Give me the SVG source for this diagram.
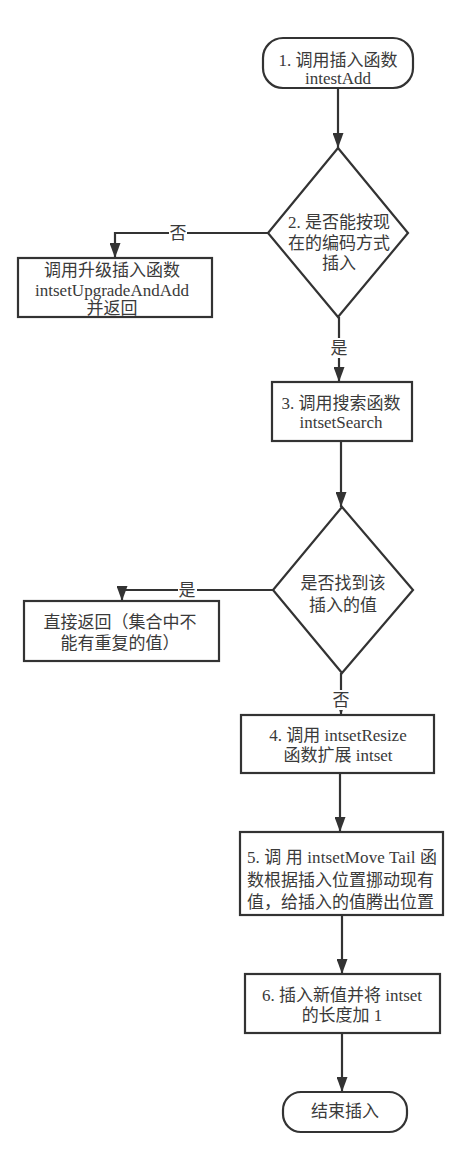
<svg xmlns="http://www.w3.org/2000/svg" width="476" height="1152" viewBox="0 0 476 1152">
<style>
.n{fill:#fff;stroke:#333;stroke-width:2.2}
.c{fill:none;stroke:#333;stroke-width:2.2}
text{font-family:"Liberation Serif","Noto Sans CJK SC",serif;font-size:17px;fill:#3a3a3a}
.m{text-anchor:middle}
.bg{fill:#fff;stroke:none}
</style>
<defs>
<marker id="ah" markerUnits="userSpaceOnUse" markerWidth="15" markerHeight="11" refX="15" refY="5.5" orient="auto">
<path d="M0,0 L15,5.5 L0,11 z" fill="#333"/>
</marker>
</defs>
<rect width="476" height="1152" fill="#fff"/>
<g id="connectors">
<path class="c" d="M338,88 V148" marker-end="url(#ah)"/>
<path class="c" d="M268,233 H115 V258" marker-end="url(#ah)"/>
<path class="c" d="M339,317 V382" marker-end="url(#ah)"/>
<path class="c" d="M341,441 V507" marker-end="url(#ah)"/>
<path class="c" d="M273,590 H122 V601" marker-end="url(#ah)"/>
<path class="c" d="M341,673 V715" marker-end="url(#ah)"/>
<path class="c" d="M340,773 V832" marker-end="url(#ah)"/>
<path class="c" d="M342,915 V974" marker-end="url(#ah)"/>
<path class="c" d="M342,1033 V1092" marker-end="url(#ah)"/>
<rect class="bg" x="169" y="223" width="18" height="20"/>
<text class="m" x="178" y="239">否</text>
<rect class="bg" x="330" y="338" width="19" height="20"/>
<text class="m" x="339" y="354">是</text>
<rect class="bg" x="178" y="580" width="19" height="20"/>
<text class="m" x="187" y="596">是</text>
<rect class="bg" x="331" y="690" width="19" height="20"/>
<text class="m" x="341" y="706">否</text>
</g>
<g id="n1">
<rect class="n" x="263" y="38" width="150" height="50" rx="20"/>
<text class="m" x="338" y="66">1. 调用插入函数</text>
<text class="m" x="338" y="84">intestAdd</text>
</g>
<g id="n2">
<polygon class="n" points="338,148 408,233 338,317 268,233"/>
<text class="m" x="339" y="228">2. 是否能按现</text>
<text class="m" x="339" y="249">在的编码方式</text>
<text class="m" x="339" y="269">插入</text>
</g>
<g id="n2a">
<rect class="n" x="18" y="258" width="194" height="59"/>
<text class="m" x="112" y="276">调用升级插入函数</text>
<text class="m" x="112" y="296">intsetUpgradeAndAdd</text>
<text class="m" x="112" y="314">并返回</text>
</g>
<g id="n3">
<rect class="n" x="272" y="382" width="140" height="59"/>
<text class="m" x="341" y="409">3. 调用搜索函数</text>
<text class="m" x="341" y="428">intsetSearch</text>
</g>
<g id="n3d">
<polygon class="n" points="342,507 413,590 342,673 273,590"/>
<text class="m" x="343" y="589">是否找到该</text>
<text class="m" x="343" y="611">插入的值</text>
</g>
<g id="n3a">
<rect class="n" x="24" y="601" width="195" height="60"/>
<text class="m" x="120" y="628">直接返回（集合中不</text>
<text class="m" x="120" y="649">能有重复的值）</text>
</g>
<g id="n4">
<rect class="n" x="241" y="715" width="193" height="58"/>
<text class="m" x="338" y="741">4. 调用 intsetResize</text>
<text class="m" x="338" y="761">函数扩展 intset</text>
</g>
<g id="n5">
<rect class="n" x="240" y="832" width="203" height="83"/>
<text x="247" y="863" textLength="190" lengthAdjust="spacing">5. 调 用 intsetMove Tail 函</text>
<text x="247" y="886">数根据插入位置挪动现有</text>
<text x="247" y="908">值，给插入的值腾出位置</text>
</g>
<g id="n6">
<rect class="n" x="245" y="974" width="195" height="59"/>
<text class="m" x="342" y="1001">6. 插入新值并将 intset</text>
<text class="m" x="342" y="1021">的长度加 1</text>
</g>
<g id="n7">
<rect class="n" x="283" y="1092" width="124" height="40" rx="18"/>
<text class="m" x="345" y="1117">结束插入</text>
</g>
</svg>
